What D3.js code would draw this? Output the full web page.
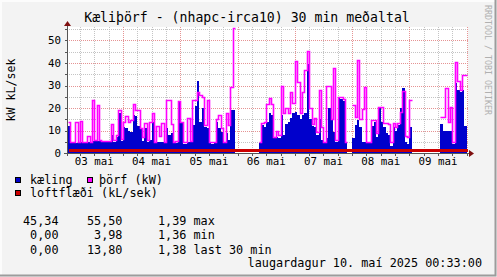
<!DOCTYPE html>
<html>
<head>
<meta charset="utf-8">
<script src="https://cdn.jsdelivr.net/npm/d3@7"></script>
<style>
body { margin: 0; background: #f3f3f3; }
text { font-family: "DejaVu Sans Mono", monospace; }
</style>
</head>
<body>
<script>
// hourly samples, first one at 03 mai 01:00, null = no data
var kaeling = [
  12,4.5,4.5,4.5,4.5,4.7,4.7,4.7,5,5,5.5,5.5,5.5,5.5,5,5,5,5,8,5,7,17.6,5.5,11.7,
  11,10,9.5,16.9,16.4,12,11,5.5,11,5,6,13.9,4.5,5,5,5,4.5,11,8,9,4.5,4.5,22.5,13.5,
  4,4,5,5,12.4,21,32,14,20,11.7,11,4.5,4,4.5,13.9,11,9.5,4.5,9,6,19,19,null,null,
  null,null,null,null,null,null,null,null,4.5,12.4,11.7,14,17.6,17,7,7,6.5,17,8,13,14,15.4,17.6,18.4,
  17,15,17,18,39.4,15,12,11.7,8,15,6,4.5,6.5,20,14.7,9.5,5,24.5,24,23,4.5,null,null,6.5,
  12.4,14.7,11.7,5,5,4.5,4.5,12,13.9,7,19.9,14,11.7,9,8,3,11.7,10,12.4,20,28.7,5,4,11.7,
  null,null,null,null,null,null,null,null,null,null,null,null,13,10,10,10,10,4,31,28,27,28,12,null
];
var thorf = [
  14,5,5,14,5,14.2,5,5,7.5,5,23.5,6,21.3,6,5.5,5.5,5.5,5.5,12.9,6,8,19.1,6.4,13.9,
  16.4,13.9,14.7,21.8,19,19.1,11,7.3,13.2,6,14,17.6,5,12,7.5,13.5,5,23.5,23.5,13,5,5.5,23,14,
  5,5,15.4,5.5,23.5,23.5,27,26,25,12.4,23.5,5,5,5,15,16.9,11,5,17.6,12.4,29.5,55.5,null,null,
  null,null,null,null,null,null,null,null,5,13.2,13.9,22,24.3,22,7,10,8,29.8,17.6,20,17.6,27,22.4,41,
  31.7,17.6,27,36.9,45.3,20,13,15.4,9.5,28,11.7,5,30,30,15,37.6,6,25,25,24,5,null,null,21.3,
  16.1,41.3,15,19.4,29.2,5,5,14.7,14.7,9,20.6,20.6,13.2,13.2,13,5,13.2,11.7,13.2,18.4,27.7,7.5,7,23.5,
  null,null,null,null,null,null,null,null,null,null,null,null,15.9,16,29,13.9,20.6,5,40.6,32,28,34.7,34.7,null
];
var loftflaedi = [
  1.38,1.38,1.37,1.38,1.38,1.39,1.38,1.38,1.37,1.38,1.38,1.38,1.39,1.38,1.38,1.37,1.38,1.38,1.38,1.38,1.39,1.38,1.38,1.38,
  1.38,1.37,1.38,1.38,1.39,1.38,1.38,1.38,1.37,1.38,1.38,1.38,1.38,1.39,1.38,1.38,1.37,1.38,1.38,1.38,1.38,1.38,1.39,1.38,
  1.38,1.38,1.37,1.38,1.38,1.38,1.39,1.38,1.38,1.38,1.37,1.38,1.38,1.38,1.38,1.39,1.38,1.38,1.37,1.38,1.38,1.38,1.38,1.38,
  1.37,1.38,1.38,1.38,1.36,1.38,1.38,1.38,1.37,1.38,1.38,1.39,1.38,1.38,1.38,1.37,1.38,1.38,1.38,1.39,1.38,1.38,1.38,1.38,
  1.38,1.38,1.37,1.38,1.38,1.39,1.38,1.38,1.38,1.37,1.38,1.38,1.38,1.38,1.39,1.38,1.38,1.38,1.37,1.38,1.38,1.38,1.38,1.38,
  1.38,1.37,1.38,1.38,1.38,1.39,1.38,1.38,1.38,1.38,1.37,1.38,1.38,1.38,1.38,1.39,1.38,1.38,1.37,1.38,1.38,1.38,1.38,1.38,
  1.38,1.38,1.37,1.38,1.38,1.38,1.39,1.38,1.38,1.38,1.37,1.38,1.38,1.38,1.38,1.38,1.39,1.38,1.38,1.37,1.38,1.38,1.38,1.38
];
var yTicks = [0, 10, 20, 30, 40, 50];
var yMinor = [5, 15, 25, 35, 45, 55];
var dayLabels = ["03 mai", "04 mai", "05 mai", "06 mai", "07 mai", "08 mai", "09 mai"];
var series = ["kæling", "þörf (kW)", "loftflæði (kL/sek)"];
var colors = ["#0000cc", "#ff00ff", "#cc0000"];
var statLines = [
  "45,34    55,50     1,39 max",
  " 0,00     3,98     1,36 min",
  " 0,00    13,80     1,38 last 30 min"
];
var title = "Kæliþörf - (nhapc-irca10) 30 min meðaltal";
var yLabel = "kW kL/sek";
var stamp = "laugardagur 10. maí 2025 00:33:00";

var W = 497, H = 277;
var pl = {left: 67, right: 468, top: 27, bottom: 153};
var HOUR = 3600e3;
var t0 = Date.UTC(2025, 4, 3, 1, 0);

var x = d3.scaleUtc()
    .domain([Date.UTC(2025, 4, 3, 0, 33), Date.UTC(2025, 4, 10, 0, 33)])
    .range([pl.left, pl.right]);
var y = d3.scaleLinear().domain([0, 56]).range([pl.bottom, pl.top]);

var svg = d3.select("body").append("svg")
    .attr("width", W).attr("height", H);

// background + 3d frame
svg.append("rect").attr("width", W).attr("height", H).attr("fill", "#f3f3f3");
svg.append("path").attr("d", "M1,276V1H496").attr("fill", "none").attr("stroke", "#fcfcfc").attr("stroke-width", 2);
svg.append("path").attr("d", "M0,275.5H495.5V0").attr("fill", "none").attr("stroke", "#9c9c9c").attr("stroke-width", 2);

svg.append("rect")
    .attr("x", pl.left).attr("y", pl.top)
    .attr("width", pl.right - pl.left).attr("height", pl.bottom - pl.top)
    .attr("fill", "#fff");

// grid
var grid = svg.append("g").attr("shape-rendering", "crispEdges");
var days = d3.utcDay.range(x.domain()[0], x.domain()[1]);
var sixHours = d3.utcHour.every(6).range(x.domain()[0], x.domain()[1])
    .filter(function(d) { return d.getUTCHours() != 0; });
function px(v) { return Math.round(v) + 0.5; }

grid.selectAll(".vmin").data(sixHours).enter().append("line")
    .attr("x1", function(d) { return px(x(d)); })
    .attr("x2", function(d) { return px(x(d)); })
    .attr("y1", pl.top).attr("y2", pl.bottom)
    .attr("stroke", "#c4c4c4").attr("stroke-dasharray", "1,1");
grid.selectAll(".hmin").data(yMinor).enter().append("line")
    .attr("x1", pl.left).attr("x2", pl.right)
    .attr("y1", function(d) { return px(y(d)); })
    .attr("y2", function(d) { return px(y(d)); })
    .attr("stroke", "#c4c4c4").attr("stroke-dasharray", "1,1");
grid.selectAll(".vmaj").data(days).enter().append("line")
    .attr("x1", function(d) { return px(x(d)); })
    .attr("x2", function(d) { return px(x(d)); })
    .attr("y1", pl.top).attr("y2", pl.bottom)
    .attr("stroke", "#e59393").attr("stroke-dasharray", "1,1");
grid.selectAll(".hmaj").data(yTicks.slice(1)).enter().append("line")
    .attr("x1", pl.left).attr("x2", pl.right)
    .attr("y1", function(d) { return px(y(d)); })
    .attr("y2", function(d) { return px(y(d)); })
    .attr("stroke", "#e59393").attr("stroke-dasharray", "1,1");

// step data
function steps(vals) {
    var pts = [];
    vals.forEach(function(v, i) {
        pts.push({t: t0 + i * HOUR, v: v});
        pts.push({t: t0 + (i + 1) * HOUR, v: v});
    });
    return pts;
}

svg.append("clipPath").attr("id", "clip")
    .append("rect").attr("x", pl.left).attr("y", 0).attr("width", pl.right - pl.left).attr("height", pl.bottom);

var g = svg.append("g").attr("clip-path", "url(#clip)");

var area = d3.area()
    .defined(function(d) { return d.v != null; })
    .x(function(d) { return Math.round(x(d.t)); })
    .y0(y(0))
    .y1(function(d) { return Math.round(y(d.v)); });
var line = d3.line()
    .defined(function(d) { return d.v != null; })
    .x(function(d) { return px(x(d.t)); })
    .y(function(d) { return px(y(d.v)); });

g.append("path").datum(steps(kaeling))
    .attr("d", area).attr("fill", colors[0]).attr("shape-rendering", "crispEdges");
g.append("path").datum(steps(thorf))
    .attr("d", line).attr("fill", "none").attr("stroke", colors[1]).attr("stroke-width", 1.6);
g.append("path").datum(steps(loftflaedi))
    .attr("d", line).attr("fill", "none").attr("stroke", colors[2]).attr("stroke-width", 3)
    .attr("shape-rendering", "crispEdges");

// axes
var ax = svg.append("g").attr("shape-rendering", "crispEdges").attr("stroke", "#555");
ax.append("line").attr("x1", pl.left - 3).attr("x2", pl.right + 2).attr("y1", pl.bottom + 0.5).attr("y2", pl.bottom + 0.5);
ax.append("line").attr("x1", pl.left + 0.5).attr("x2", pl.left + 0.5).attr("y1", pl.bottom + 3).attr("y2", pl.top - 4);
ax.selectAll(".yt").data(yTicks.concat(yMinor)).enter().append("line")
    .attr("x1", pl.left - 2).attr("x2", pl.left)
    .attr("y1", function(d) { return px(y(d)); })
    .attr("y2", function(d) { return px(y(d)); });
ax.selectAll(".xt").data(days.concat(sixHours)).enter().append("line")
    .attr("x1", function(d) { return px(x(d)); })
    .attr("x2", function(d) { return px(x(d)); })
    .attr("y1", pl.bottom).attr("y2", pl.bottom + 3);

svg.append("path").attr("fill", "#7f1010")
    .attr("d", "M" + (pl.left + 0.5) + "," + (pl.top - 6) + "l-3.5,5h7z");
svg.append("path").attr("fill", "#7f1010")
    .attr("d", "M" + (pl.right + 6) + "," + (pl.bottom + 0.5) + "l-5,-3.5v7z");

// tick labels
svg.selectAll(".ylab").data(yTicks).enter().append("text")
    .attr("x", 61).attr("y", function(d) { return y(d) + 3.9; })
    .attr("text-anchor", "end").attr("font-size", 10.8).attr("fill", "#000")
    .text(function(d) { return d; });
svg.selectAll(".xlab").data(dayLabels).enter().append("text")
    .attr("x", function(d, i) { return x(Date.UTC(2025, 4, 3 + i, 12)); })
    .attr("y", 165)
    .attr("text-anchor", "middle").attr("font-size", 10.8).attr("fill", "#000")
    .text(function(d) { return d; });

// titles
svg.append("text").attr("x", 247).attr("y", 22).attr("text-anchor", "middle")
    .attr("font-size", 13.2).text(title);
svg.append("text").attr("transform", "translate(14.5," + ((pl.top + pl.bottom) / 2) + ") rotate(-90)")
    .attr("text-anchor", "middle").attr("font-size", 11.6).text(yLabel);
svg.append("text").attr("transform", "translate(484.5,5) rotate(90)")
    .attr("font-size", 8.3).attr("fill", "#b0b0b0").text("RRDTOOL / TOBI OETIKER");

// legend
var legPos = [[15, 177, 30, 183.5], [87, 177, 99, 183.5], [15, 189.5, 30, 196.5]];
series.forEach(function(s, i) {
    var p = legPos[i];
    svg.append("rect").attr("x", p[0] + 0.5).attr("y", p[1] + 0.5).attr("width", 5).attr("height", 5)
        .attr("fill", colors[i]).attr("stroke", "#000").attr("shape-rendering", "crispEdges");
    svg.append("text").attr("x", p[2]).attr("y", p[3]).attr("font-size", 11.8).text(s);
});
statLines.forEach(function(s, i) {
    svg.append("text").attr("x", 23).attr("y", 225 + i * 14.4)
        .attr("font-size", 11.8).style("white-space", "pre").text(s);
});
svg.append("text").attr("x", 482).attr("y", 267).attr("text-anchor", "end")
    .attr("font-size", 11.8).text(stamp);
</script>
</body>
</html>
